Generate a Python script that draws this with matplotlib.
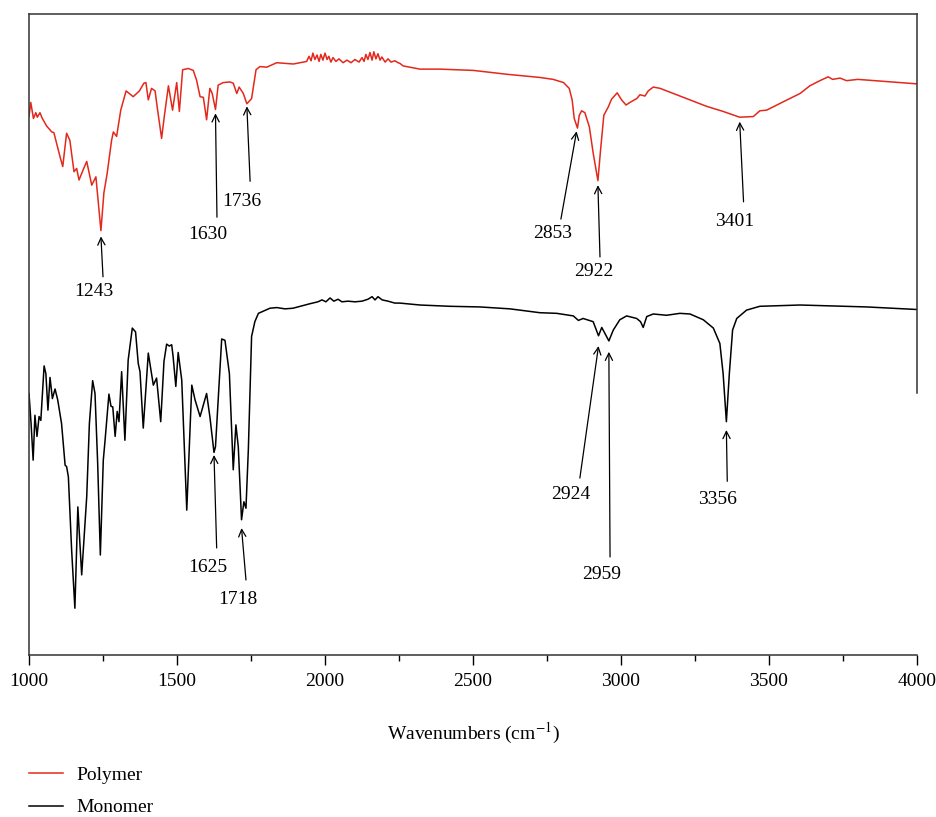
import numpy as np
import matplotlib
matplotlib.use("Agg")
import matplotlib.pyplot as plt

plt.rcParams['font.family'] = ['Liberation Serif', 'DejaVu Serif']
plt.rcParams['mathtext.fontset'] = 'stix'

# FTIR spectra (wavenumber, transmittance a.u.)
polymer_wn = [1000, 1006, 1015, 1023, 1028, 1037, 1045, 1060, 1077, 1084, 1096, 1105, 1114, 1127,
              1138, 1152, 1161, 1169, 1183, 1195, 1212, 1226, 1243, 1253, 1264, 1279, 1285, 1296,
              1310, 1328, 1352, 1373, 1388, 1395, 1403, 1414, 1426, 1433, 1448, 1457, 1471, 1485,
              1499, 1508, 1519, 1538, 1555, 1566, 1578, 1589, 1600, 1611, 1619, 1630, 1639, 1656,
              1679, 1690, 1702, 1710, 1724, 1736, 1752, 1767, 1780, 1803, 1837, 1893, 1938, 1946,
              1953, 1959, 1966, 1973, 1980, 1986, 1993, 2000, 2007, 2013, 2020, 2027, 2037, 2047,
              2061, 2074, 2088, 2101, 2115, 2125, 2132, 2138, 2145, 2152, 2159, 2165, 2172, 2179,
              2186, 2192, 2203, 2213, 2223, 2236, 2247, 2253, 2264, 2321, 2388, 2501, 2614, 2726,
              2771, 2806, 2825, 2835, 2842, 2853, 2859, 2867, 2878, 2893, 2906, 2922, 2931, 2942,
              2957, 2968, 2987, 3002, 3017, 3030, 3053, 3064, 3081, 3092, 3109, 3132, 3177, 3233,
              3289, 3345, 3401, 3447, 3469, 3492, 3548, 3605, 3638, 3672, 3700, 3715, 3740, 3762,
              3800, 3830, 3886, 3942, 4000]
polymer_t = [84.0, 86.2, 83.7, 84.6, 83.9, 84.6, 83.7, 82.5, 81.6, 81.5, 79.3, 77.7, 76.2, 81.4,
             80.3, 75.4, 75.9, 74.1, 75.7, 77.0, 73.3, 74.6, 66.2, 72.1, 75.1, 80.3, 81.6, 80.9,
             85.0, 88.0, 87.1, 88.0, 89.2, 89.3, 86.6, 88.4, 88.0, 85.5, 80.6, 84.0, 88.8, 85.0,
             89.3, 84.8, 91.3, 91.5, 91.2, 89.7, 87.1, 87.0, 83.5, 88.4, 87.6, 85.1, 88.9, 89.3,
             89.4, 89.2, 87.6, 88.6, 87.6, 86.0, 86.8, 91.3, 91.8, 91.7, 92.4, 92.2, 92.6, 93.4,
             92.7, 93.9, 92.9, 93.6, 92.6, 93.7, 92.8, 93.9, 92.9, 93.4, 92.5, 93.2, 92.6, 93.0,
             92.4, 92.8, 92.4, 92.9, 92.5, 93.2, 92.6, 93.7, 92.9, 94.0, 92.8, 94.1, 93.0, 93.8,
             92.8, 93.3, 92.5, 93.0, 92.5, 92.7, 92.4, 92.3, 91.9, 91.4, 91.4, 91.2, 90.6, 90.1,
             89.8, 89.3, 88.4, 86.6, 83.7, 82.2, 84.2, 84.9, 84.6, 82.4, 78.3, 74.0, 78.8, 84.2,
             85.5, 86.7, 87.7, 86.6, 85.8, 86.2, 86.8, 87.4, 87.2, 88.0, 88.6, 88.4, 87.6, 86.6,
             85.6, 84.8, 83.9, 84.0, 84.9, 85.0, 86.3, 87.6, 88.8, 89.6, 90.2, 89.8, 90.0, 89.6,
             89.8, 89.7, 89.5, 89.3, 89.1]

monomer_wn = [1000, 1007, 1014, 1020, 1027, 1034, 1040, 1051, 1057, 1064, 1071, 1079, 1088, 1097,
              1110, 1122, 1127, 1133, 1144, 1155, 1165, 1178, 1195, 1204, 1215, 1223, 1232, 1241,
              1251, 1257, 1270, 1277, 1283, 1291, 1298, 1304, 1313, 1324, 1335, 1349, 1360, 1369,
              1375, 1386, 1403, 1420, 1431, 1445, 1456, 1465, 1474, 1482, 1487, 1496, 1504, 1516,
              1533, 1550, 1561, 1578, 1600, 1611, 1625, 1630, 1651, 1662, 1677, 1690, 1699, 1707,
              1718, 1726, 1733, 1741, 1752, 1763, 1775, 1814, 1837, 1865, 1892, 1949, 1976, 1990,
              2003, 2017, 2030, 2044, 2057, 2078, 2101, 2125, 2145, 2159, 2169, 2179, 2193, 2213,
              2236, 2253, 2321, 2422, 2523, 2625, 2726, 2783, 2839, 2856, 2872, 2906, 2924, 2935,
              2959, 2974, 2996, 3019, 3053, 3066, 3075, 3087, 3109, 3154, 3199, 3233, 3278, 3312,
              3334, 3345, 3356, 3366, 3377, 3391, 3424, 3469, 3605, 3830, 4000]
monomer_t = [40.8, 36.1, 30.4, 37.4, 34.1, 37.2, 36.6, 45.1, 43.9, 38.2, 43.3, 40.0, 41.5, 39.8,
             36.1, 29.6, 29.4, 27.8, 16.4, 7.3, 23.1, 12.5, 24.7, 36.1, 42.8, 40.8, 29.9, 15.6,
             30.4, 33.5, 40.7, 38.8, 38.7, 34.1, 38.0, 36.4, 44.2, 33.5, 46.0, 51.0, 50.4, 45.5,
             44.2, 35.4, 47.1, 42.1, 43.2, 36.4, 45.8, 48.5, 48.2, 48.4, 46.5, 41.9, 47.2, 42.9,
             22.6, 42.1, 39.8, 37.2, 40.8, 37.2, 31.6, 32.5, 49.3, 49.1, 43.9, 28.9, 35.9, 32.5,
             21.1, 23.9, 22.9, 32.0, 49.7, 52.0, 53.3, 54.1, 54.2, 54.0, 54.1, 54.8, 55.1, 55.4,
             55.1, 55.7, 55.2, 55.5, 55.1, 55.2, 55.1, 55.2, 55.5, 55.9, 55.4, 55.9, 55.4, 55.2,
             54.9, 54.9, 54.6, 54.4, 54.3, 54.0, 53.4, 53.3, 52.9, 52.2, 52.5, 52.0, 49.8, 51.1,
             49.0, 50.7, 52.3, 52.9, 52.5, 52.0, 51.1, 52.8, 53.2, 53.0, 53.3, 53.2, 52.3, 51.0,
             48.6, 43.9, 36.4, 43.9, 50.7, 52.5, 53.8, 54.4, 54.6, 54.3, 53.9]

# peak labels: text, arrow head, arrow tail, text centre
polymer_peaks = ["1243", "1630", "1736", "2853", "2922", "3401"]
polymer_heads = [(1243, 65.3), (1630, 84.5), (1736, 85.6), (2850, 81.7), (2922, 73.3), (3401, 83.2)]
polymer_tails = [(1250, 59.0), (1635, 68.3), (1747, 73.9), (2797, 68.0), (2929, 62.1), (3414, 70.7)]
polymer_txt = [(1220, 56.7), (1605, 65.6), (1719, 70.7), (2770, 65.8), (2909, 59.8), (3385, 67.6)]

monomer_peaks = ["1625", "1718", "2924", "2959", "3356"]
monomer_heads = [(1625, 31.2), (1718, 19.8), (2924, 48.2), (2959, 47.3), (3356, 35.1)]
monomer_tails = [(1634, 16.7), (1733, 11.7), (2861, 27.6), (2963, 15.3), (3359, 27.1)]
monomer_txt = [(1605, 13.7), (1704, 8.6), (2831, 25.0), (2936, 12.6), (3327, 24.2)]

fig = plt.figure(figsize=(9.37, 8.17), dpi=100)
ax = fig.add_axes([29/937, 1 - 655/817, 888/937, 641/817])

ax.plot(polymer_wn, polymer_t, color='#e3281c', lw=1.1, label='Polymer')
ax.plot(monomer_wn, monomer_t, color='black', lw=1.1, label='Monomer')

arrow = dict(arrowstyle='->', color='black', lw=0.9, shrinkA=0, shrinkB=0, mutation_scale=13)
for lab, h, t, p in zip(polymer_peaks + monomer_peaks, polymer_heads + monomer_heads,
                        polymer_tails + monomer_tails, polymer_txt + monomer_txt):
    ax.annotate('', xy=h, xytext=t, arrowprops=arrow)
    ax.text(p[0], p[1], lab, ha='center', va='center', fontsize=14)

ax.set_xlim(1000, 4000)
ax.set_ylim(0, 100)
ax.set_yticks([])
ax.set_xticks([1000, 1500, 2000, 2500, 3000, 3500, 4000])
ax.set_xticks(np.arange(1000, 4001, 250), minor=True)
ax.tick_params(axis='x', which='major', direction='out', length=7, width=1, pad=6, labelsize=14)
ax.tick_params(axis='x', which='minor', direction='out', length=4, width=1)
for s in ax.spines.values():
    s.set_linewidth(1.1)
    s.set_color('#333333')
ax.spines['right'].set_bounds(40.9, 100)
ax.set_xlabel(r'Wavenumbers (cm$^{-1}$)', fontsize=14, labelpad=22)

fig.legend(loc='upper left', bbox_to_anchor=(29/937, 1 - 766/817), frameon=False,
           fontsize=14, handlelength=1.75, handletextpad=0.7, labelspacing=0.78,
           borderpad=0, borderaxespad=0)

fig.savefig('out.png', dpi=100)
